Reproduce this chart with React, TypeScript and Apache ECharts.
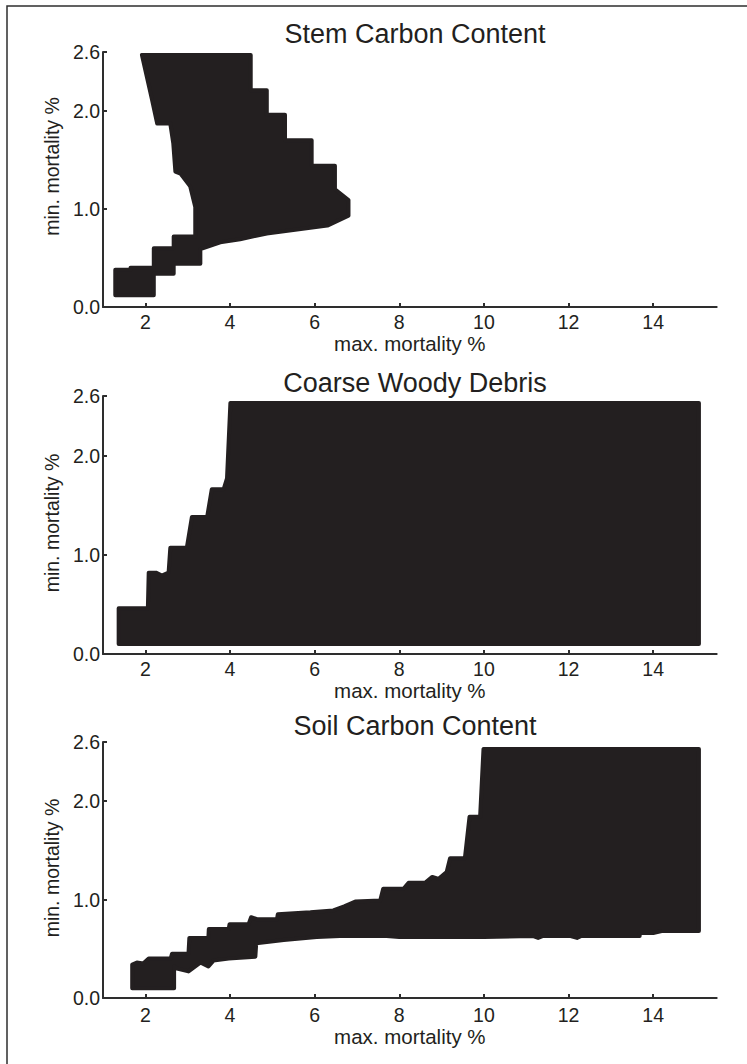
import React, { useEffect, useRef } from "react";
import * as echarts from "echarts";

// ---- data ----
const panelTitles = ["Stem Carbon Content", "Coarse Woody Debris", "Soil Carbon Content"];
const xTickValues = [2, 4, 6, 8, 10, 12, 14];
const yTickValues = [0, 1, 2, 2.6];
const xName = "max. mortality %";
const yName = "min. mortality %";

// region of acceptable (max, min) mortality combinations, as boundary vertices
const stemRegion = [
  [1.92, 2.57], [4.49, 2.57], [4.49, 2.21], [4.87, 2.21], [4.87, 1.96], [5.3, 1.96],
  [5.3, 1.7], [5.93, 1.7], [5.93, 1.44], [6.48, 1.44], [6.48, 1.2], [6.8, 1.09],
  [6.8, 0.93], [6.3, 0.83], [4.87, 0.75], [4.24, 0.69], [3.77, 0.66], [3.3, 0.59],
  [3.3, 0.44], [2.67, 0.44], [2.67, 0.34], [2.2, 0.34], [2.2, 0.12], [1.29, 0.12],
  [1.29, 0.38], [1.65, 0.38], [1.65, 0.4], [2.2, 0.4], [2.2, 0.6], [2.67, 0.6],
  [2.67, 0.72], [3.18, 0.72], [3.18, 1.02], [3.06, 1.23], [2.83, 1.36], [2.71, 1.38],
  [2.66, 1.67], [2.59, 1.87], [2.28, 1.87], [2.16, 2.11],
];
const debrisRegion = [
  [1.37, 0.1], [1.37, 0.46], [2.06, 0.46], [2.08, 0.82], [2.25, 0.82], [2.39, 0.79],
  [2.55, 0.82], [2.59, 1.07], [2.98, 1.07], [3.1, 1.38], [3.46, 1.38], [3.57, 1.66],
  [3.85, 1.66], [3.93, 1.77], [4.01, 2.53], [15.08, 2.53], [15.08, 0.1],
];
const soilRegion = [
  [9.99, 2.53], [15.08, 2.53], [15.08, 0.68], [14.2, 0.68], [14.0, 0.66], [13.68, 0.66],
  [13.68, 0.63], [12.3, 0.63], [12.2, 0.61], [12.05, 0.63], [11.4, 0.63], [11.28, 0.61],
  [11.15, 0.63], [10.0, 0.62], [8.0, 0.62], [7.7, 0.63], [6.6, 0.63], [6.05, 0.62],
  [5.27, 0.59], [4.62, 0.555], [4.6, 0.42], [3.97, 0.4], [3.61, 0.38], [3.49, 0.32],
  [3.3, 0.36], [3.02, 0.27], [2.75, 0.3], [2.68, 0.32], [2.68, 0.1], [1.69, 0.1],
  [1.69, 0.34], [1.8, 0.36], [1.95, 0.35], [2.08, 0.4], [2.6, 0.4], [2.63, 0.45],
  [3.02, 0.45], [3.04, 0.61], [3.49, 0.61], [3.5, 0.7], [3.97, 0.7], [3.99, 0.75],
  [4.44, 0.75], [4.5, 0.82], [4.64, 0.8], [5.11, 0.8], [5.13, 0.85], [5.9, 0.87],
  [6.44, 0.89], [6.7, 0.93], [6.96, 0.98], [7.55, 0.99], [7.62, 1.11], [8.1, 1.11],
  [8.22, 1.17], [8.61, 1.17], [8.78, 1.23], [8.93, 1.21], [9.12, 1.28], [9.2, 1.42],
  [9.55, 1.42], [9.66, 1.84], [9.91, 1.84],
];
const regions = [stemRegion, debrisRegion, soilRegion];

// ---- layout / style ----
const FONT = "'Liberation Sans', Arial, sans-serif";
const INK = "#231f20";
const AXIS = "#2e2e2e";
const gridTops = [52, 396, 742];
const gridH = [255, 258, 256];
const titleTops = [15, 364, 707];
const xNameGaps = [19, 24, 28];
const xLabelMargins = [5, 5, 7];
const yNamePad = [[0, 0, 0, 26], [0, 0, 0, 4], [0, 0, 0, 4]];

export default function App() {
  const ref = useRef<HTMLDivElement>(null);
  useEffect(() => {
    if (!ref.current) return;
    const chart = echarts.init(ref.current, null, { renderer: "svg" });
    const grids = gridTops.map((t, i) => ({ left: 103, width: 613.7, top: t, height: gridH[i] }));
    const xAxes = gridTops.map((_, i) => ({
      type: "value",
      gridIndex: i,
      min: 1,
      max: 15.5,
      name: xName,
      nameLocation: "middle",
      nameGap: xNameGaps[i],
      nameTextStyle: { fontFamily: FONT, fontSize: 20.5, color: INK },
      axisLine: { show: true, onZero: false, lineStyle: { color: AXIS, width: 2 } },
      axisTick: { show: true, inside: true, length: 4, customValues: xTickValues, lineStyle: { color: AXIS, width: 2 } },
      axisLabel: {
        show: true, margin: xLabelMargins[i], customValues: xTickValues,
        fontFamily: FONT, fontSize: 19.5, color: INK,
        formatter: (v: number) => String(v),
      },
      splitLine: { show: false },
    }));
    const yAxes = gridTops.map((_, i) => ({
      type: "value",
      gridIndex: i,
      min: 0,
      max: 2.6,
      name: yName,
      nameLocation: "middle",
      nameGap: 41,
      nameRotate: 90,
      nameTextStyle: { fontFamily: FONT, fontSize: 19.5, color: INK, padding: yNamePad[i] },
      axisLine: { show: true, onZero: false, lineStyle: { color: AXIS, width: 2 } },
      axisTick: { show: true, inside: true, length: 4, customValues: yTickValues, lineStyle: { color: AXIS, width: 2 } },
      axisLabel: {
        show: true, margin: 3, customValues: yTickValues,
        fontFamily: FONT, fontSize: 19.5, color: INK,
        formatter: (v: number) => v.toFixed(1),
      },
      splitLine: { show: false },
    }));
    const series = regions.map((poly, i) => ({
      type: "custom",
      xAxisIndex: i,
      yAxisIndex: i,
      data: [poly[0]],
      renderItem: (_p: any, api: any) => ({
        type: "polygon",
        shape: { points: poly.map((pt) => api.coord(pt)) },
        style: { fill: INK, stroke: INK, lineWidth: 4, lineJoin: "round" },
      }),
    }));
    chart.setOption({
      animation: false,
      backgroundColor: "#ffffff",
      title: panelTitles.map((t, i) => ({
        text: t,
        left: 410,
        top: titleTops[i],
        textAlign: "center",
        textStyle: { fontFamily: FONT, fontSize: 27, fontWeight: "normal", color: INK },
      })),
      grid: grids,
      xAxis: xAxes,
      yAxis: yAxes,
      series,
      graphic: [
        {
          type: "rect",
          shape: { x: 7, y: 6, width: 800, height: 1100 },
          style: { fill: "none", stroke: AXIS, lineWidth: 1.5 },
          silent: true,
        },
      ],
    });
    return () => chart.dispose();
  }, []);
  return (
    <div
      ref={ref}
      style={{ position: "absolute", left: 0, top: 0, width: 747, height: 1064 }}
    />
  );
}
